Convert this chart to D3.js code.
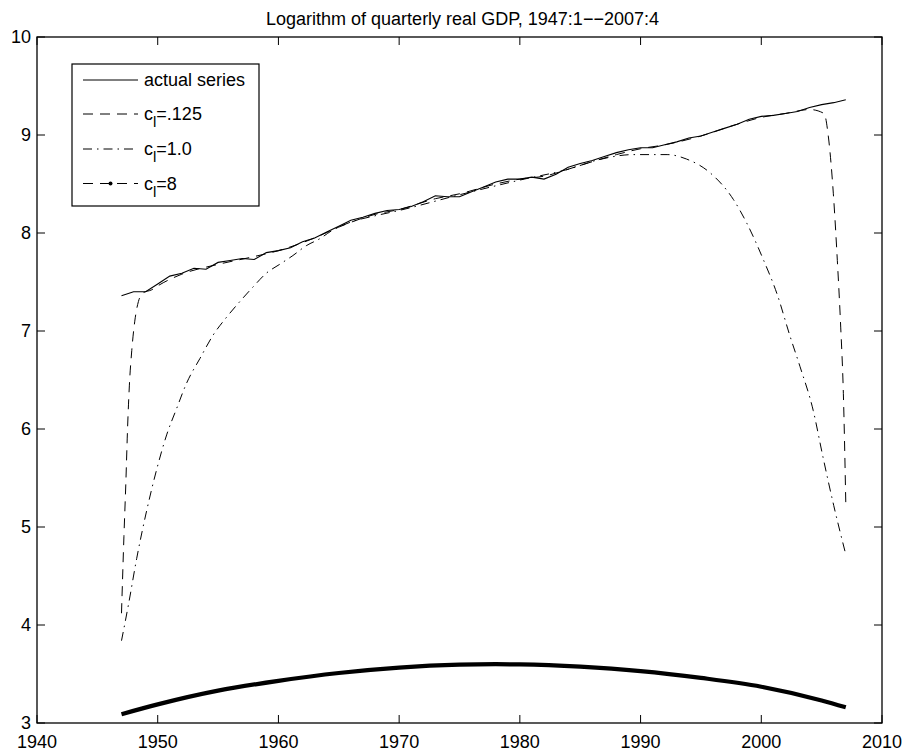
<!DOCTYPE html>
<html>
<head>
<meta charset="utf-8">
<script src="https://cdn.jsdelivr.net/npm/d3@7"></script>
<style>
  html, body { margin: 0; padding: 0; background: #fff; }
  svg { display: block; font-family: 'Liberation Sans', Arial, sans-serif; }
</style>
</head>
<body>
<div id="chart"></div>
<script>
// actual series: log real GDP, one value per year 1947..2007
const actualYears = d3.range(1947, 2008);
const actualValues = [
  7.36, 7.40, 7.40, 7.48, 7.56, 7.59, 7.64, 7.63, 7.70, 7.72,
  7.74, 7.73, 7.80, 7.82, 7.85, 7.91, 7.95, 8.01, 8.07, 8.13,
  8.16, 8.20, 8.23, 8.24, 8.27, 8.32, 8.38, 8.37, 8.37, 8.42,
  8.47, 8.52, 8.55, 8.55, 8.57, 8.55, 8.60, 8.67, 8.71, 8.74,
  8.78, 8.82, 8.85, 8.87, 8.87, 8.90, 8.93, 8.97, 8.99, 9.03,
  9.07, 9.11, 9.16, 9.19, 9.20, 9.22, 9.24, 9.28, 9.31, 9.33, 9.36
];

// c_l = .125
const c125Years = [1947.0, 1947.2, 1947.36, 1947.5, 1947.65, 1947.85, 1948.1, 1948.4, 1948.8, 1949.5,
  1950, 1952, 1955, 1958, 1960, 1963, 1965, 1968, 1970, 1973, 1975, 1978, 1980, 1982, 1985,
  1988, 1990, 1992, 1995, 1998, 2000, 2002, 2004, 2005.2, 2005.56, 2005.97, 2006.3, 2006.58, 2006.8, 2007.0];
const c125Values = [4.12, 4.9, 5.45, 6.0, 6.44, 6.8, 7.1, 7.3, 7.39, 7.42,
  7.46, 7.58, 7.68, 7.76, 7.82, 7.95, 8.06, 8.19, 8.24, 8.35, 8.40, 8.50, 8.55, 8.58, 8.69,
  8.80, 8.86, 8.90, 8.99, 9.11, 9.18, 9.22, 9.26, 9.22, 8.98, 8.40, 7.72, 7.04, 6.36, 5.25];

// c_l = 1.0
const c1Years = [1947.0, 1947.58, 1948.26, 1949.09, 1949.92, 1950.74, 1951.57, 1952.4, 1953.5, 1954.6,
  1955.7, 1956.8, 1957.9, 1959.0, 1960.1, 1961.2, 1962.3, 1963.4, 1964.5, 1966.2, 1967.8, 1970,
  1975, 1980, 1984, 1986.6, 1989.4, 1992.2, 1993.8, 1995.8, 1997.7, 1998.8, 2000.2, 2001.3,
  2002.4, 2003.2, 2004.3, 2005.1, 2006.0, 2007.0];
const c1Values = [3.84, 4.21, 4.68, 5.17, 5.59, 5.94, 6.21, 6.47, 6.72, 6.96,
  7.14, 7.30, 7.45, 7.59, 7.68, 7.77, 7.87, 7.94, 8.03, 8.12, 8.17, 8.23,
  8.39, 8.54, 8.65, 8.75, 8.80, 8.80, 8.755, 8.61, 8.34, 8.10, 7.72, 7.38,
  6.94, 6.64, 6.19, 5.72, 5.22, 4.72];

// c_l = 8
const c8Years = [1947, 1950, 1955, 1960, 1965, 1970, 1975, 1978, 1980, 1985, 1990, 1995, 2000, 2005, 2007];
const c8Values = [3.09, 3.19, 3.33, 3.43, 3.51, 3.565, 3.595, 3.60, 3.598, 3.575, 3.53, 3.46, 3.37, 3.23, 3.16];

const xTicks = [1940, 1950, 1960, 1970, 1980, 1990, 2000, 2010];
const yTicks = [3, 4, 5, 6, 7, 8, 9, 10];
const titleText = 'Logarithm of quarterly real GDP, 1947:1\u2212\u22122007:4';
const legendLabels = [
  { main: 'actual series' },
  { main: 'c', sub: 'l', rest: '=.125' },
  { main: 'c', sub: 'l', rest: '=1.0' },
  { main: 'c', sub: 'l', rest: '=8' }
];

const W = 906, H = 753;
const margin = { left: 37, right: 24, top: 37, bottom: 30 };

const svg = d3.select('#chart').append('svg')
  .attr('width', W).attr('height', H);

const x = d3.scaleLinear().domain([1940, 2010]).range([margin.left, W - margin.right]);
const y = d3.scaleLinear().domain([3, 10]).range([H - margin.bottom, margin.top]);

const x0 = x.range()[0], x1 = x.range()[1], y0 = y.range()[0], y1 = y.range()[1];
const tickLen = 8;

// Title
svg.append('text')
  .attr('x', (x0 + x1) / 2 + 3).attr('y', 25)
  .attr('text-anchor', 'middle')
  .style('font-size', '18px')
  .text(titleText);

const zip = (xs, ys) => xs.map((v, i) => [v, ys[i]]);
const line = d3.line().x(d => x(d[0])).y(d => y(d[1]));
const smooth = d3.line().x(d => x(d[0])).y(d => y(d[1])).curve(d3.curveMonotoneX);

const g = svg.append('g');

// Series
g.append('path')
  .attr('d', smooth(zip(c8Years, c8Values)))
  .attr('fill', 'none').attr('stroke', '#000').attr('stroke-width', 4.2);

g.append('path')
  .attr('d', smooth(zip(c1Years, c1Values)))
  .attr('fill', 'none').attr('stroke', '#000').attr('stroke-width', 1)
  .attr('stroke-dasharray', '9,5,1.5,5');

g.append('path')
  .attr('d', smooth(zip(c125Years, c125Values)))
  .attr('fill', 'none').attr('stroke', '#000').attr('stroke-width', 1)
  .attr('stroke-dasharray', '10,7');

g.append('path')
  .attr('d', line(zip(actualYears, actualValues)))
  .attr('fill', 'none').attr('stroke', '#000').attr('stroke-width', 1.1);

// Axes box
svg.append('rect')
  .attr('x', x0).attr('y', y1)
  .attr('width', x1 - x0).attr('height', y0 - y1)
  .attr('fill', 'none').attr('stroke', '#000').attr('stroke-width', 1.3);

// Ticks (inward on all four sides)
xTicks.forEach(t => {
  svg.append('line').attr('x1', x(t)).attr('x2', x(t)).attr('y1', y0).attr('y2', y0 - tickLen)
    .attr('stroke', '#000');
  svg.append('line').attr('x1', x(t)).attr('x2', x(t)).attr('y1', y1).attr('y2', y1 + tickLen)
    .attr('stroke', '#000');
  svg.append('text')
    .attr('x', x(t)).attr('y', y0 + 25)
    .attr('text-anchor', 'middle')
    .style('font-size', '18px')
    .text(t);
});

yTicks.forEach(t => {
  svg.append('line').attr('x1', x0).attr('x2', x0 + tickLen).attr('y1', y(t)).attr('y2', y(t))
    .attr('stroke', '#000');
  svg.append('line').attr('x1', x1).attr('x2', x1 - tickLen).attr('y1', y(t)).attr('y2', y(t))
    .attr('stroke', '#000');
  svg.append('text')
    .attr('x', x0 - 6).attr('y', y(t))
    .attr('dy', '0.35em')
    .attr('text-anchor', 'end')
    .style('font-size', '18px')
    .text(t);
});

// Legend
const legend = svg.append('g').attr('transform', 'translate(72,64)');
legend.append('rect')
  .attr('width', 187).attr('height', 142)
  .attr('fill', '#fff').attr('stroke', '#000').attr('stroke-width', 1.2);

const rowY = [16, 50, 85, 119.5];
const dashes = [null, '10,7', '9,5,1.5,5', '10,7'];
legendLabels.forEach((lab, i) => {
  legend.append('line')
    .attr('x1', 11).attr('x2', 66).attr('y1', rowY[i]).attr('y2', rowY[i])
    .attr('stroke', '#000').attr('stroke-width', 1)
    .attr('stroke-dasharray', dashes[i]);
  if (i === 3) {
    legend.append('circle').attr('cx', 38.5).attr('cy', rowY[i]).attr('r', 2).attr('fill', '#000');
  }
  const txt = legend.append('text')
    .attr('x', 72).attr('y', rowY[i] + 6)
    .style('font-size', '18px');
  txt.append('tspan').text(lab.main);
  if (lab.sub) {
    txt.append('tspan').attr('dy', 7).style('font-size', '15px').text(lab.sub);
    txt.append('tspan').attr('dy', -7).text(lab.rest);
  }
});
</script>
</body>
</html>
